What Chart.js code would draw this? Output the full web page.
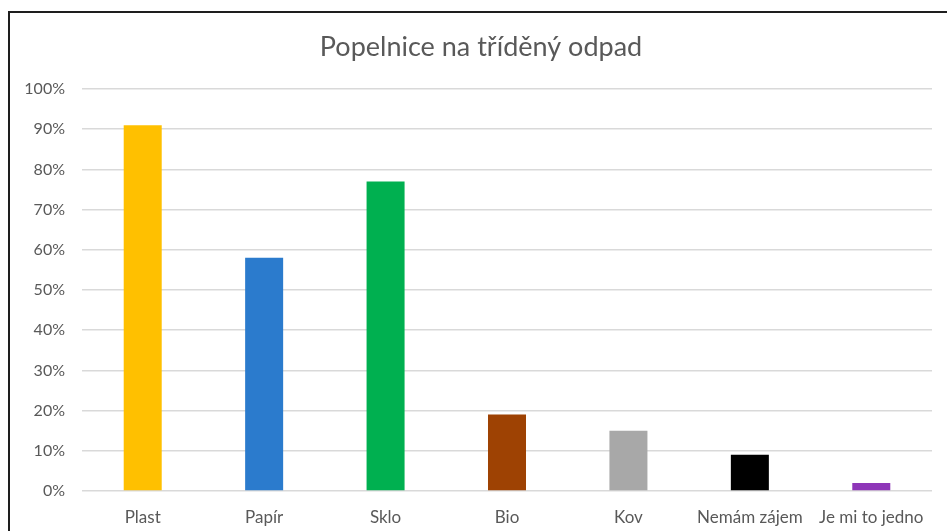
<!DOCTYPE html>
<html>
<head>
<meta charset="utf-8">
<script src="https://cdn.jsdelivr.net/npm/chart.js@4"></script>
<style>
  body { margin: 0; background: #fff; }
  #wrap { position: absolute; left: 0; top: 0; width: 947px; height: 531px; }
  #frame { position: absolute; left: 8px; top: 11px; width: 960px; height: 560px; border: 2px solid #1e1e1e; pointer-events: none; }
</style>
</head>
<body>
<div id="wrap"><canvas id="chart" width="947" height="531"></canvas></div>
<div id="frame"></div>
<script>
const chartTitle = 'Popelnice na tříděný odpad'
const categories = ['Plast', 'Papír', 'Sklo', 'Bio', 'Kov', 'Nemám zájem', 'Je mi to jedno']
const shares = [91, 58, 77, 19, 15, 9, 2]
const barColors = ['#FFC000', '#2B7BCD', '#00B050', '#9E4203', '#A8A8A8', '#000000', '#8E36B8']
const yTicks = [0, 10, 20, 30, 40, 50, 60, 70, 80, 90, 100]

const textColor = '#595959'
const font = 'Lato, "Open Sans", sans-serif'

// title is centred on the framed box, not on the canvas, so draw it ourselves
const titlePlugin = {
  id: 'frameTitle',
  afterDraw(chart) {
    const c = chart.ctx
    c.save()
    c.font = `27px ${font}`
    c.fillStyle = textColor
    c.textAlign = 'center'
    c.textBaseline = 'middle'
    c.fillText(chartTitle, 481, 47)
    c.restore()
  }
}

const ctx = document.getElementById('chart').getContext('2d')
new Chart(ctx, {
  type: 'bar',
  data: {
    labels: categories,
    datasets: [
      {
        label: chartTitle,
        data: shares,
        backgroundColor: barColors,
        categoryPercentage: 1,
        barPercentage: 0.313
      }
    ]
  },
  plugins: [titlePlugin],
  options: {
    responsive: false,
    animation: false,
    layout: { padding: { left: 0, right: 15, top: 89, bottom: 0 } },
    plugins: {
      legend: { display: false },
      tooltip: { enabled: false },
      title: { display: false }
    },
    scales: {
      x: {
        grid: { display: false, drawTicks: false },
        border: { display: false },
        ticks: { color: textColor, font: { family: font, size: 17 }, padding: 16, maxRotation: 0 },
        afterFit(scale) { scale.height = 40 }
      },
      y: {
        min: 0,
        max: 100,
        afterBuildTicks(scale) { scale.ticks = yTicks.map(v => ({ value: v })) },
        grid: { color: '#D9D9D9', lineWidth: 1.5, drawTicks: false },
        border: { display: false },
        ticks: { color: textColor, font: { family: font, size: 16 }, padding: 17, callback: v => v + '%' },
        afterFit(scale) { scale.width = 82 }
      }
    }
  }
})
</script>
</body>
</html>
